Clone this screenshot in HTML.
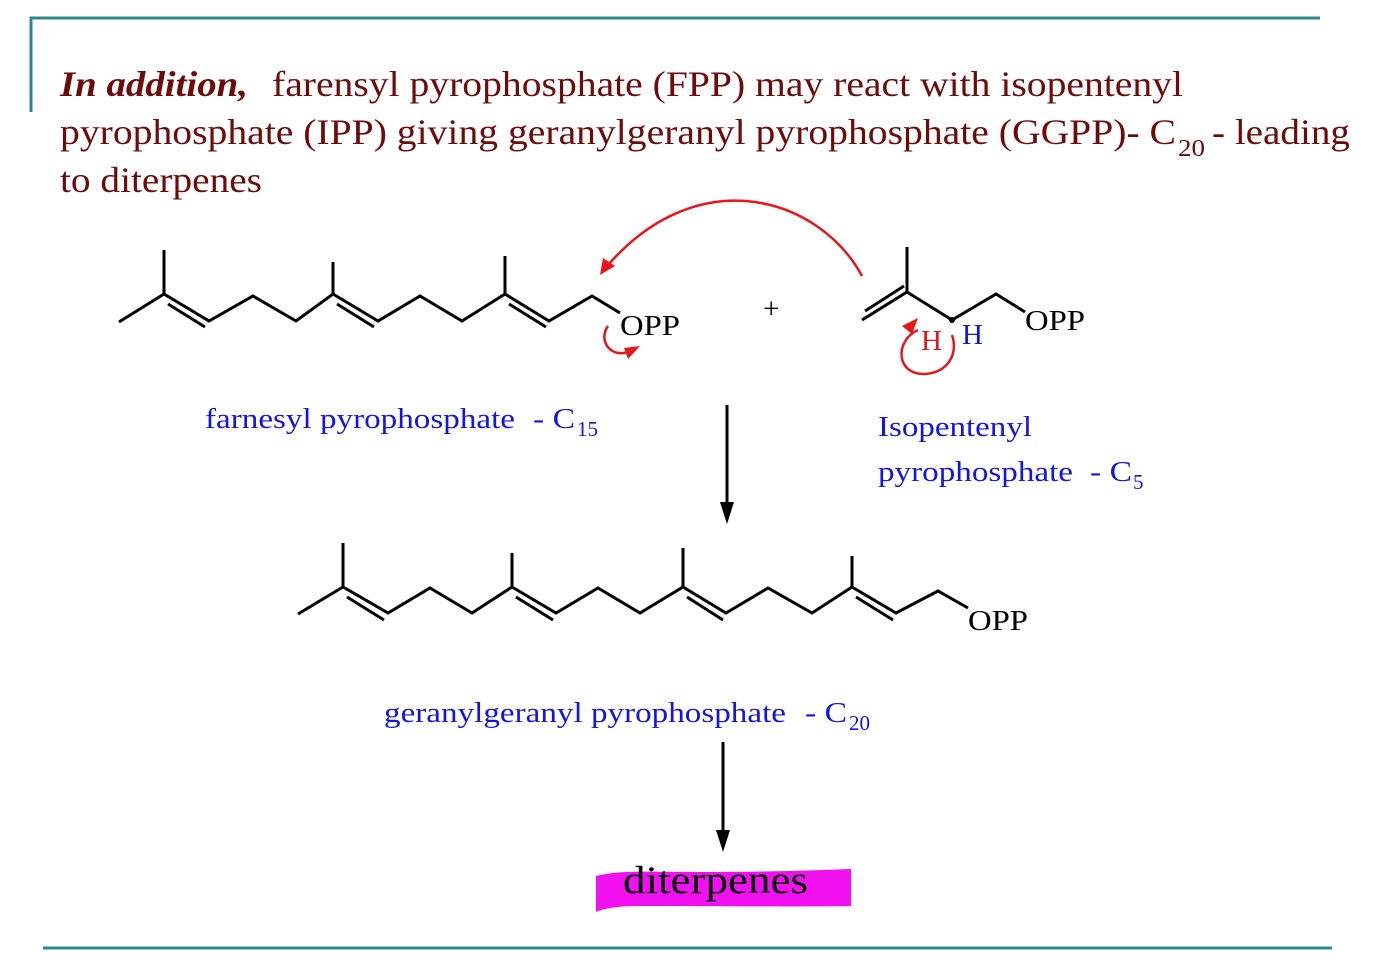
<!DOCTYPE html>
<html><head><meta charset="utf-8"><style>
html,body{margin:0;padding:0;background:#fff;width:1392px;height:968px;overflow:hidden}
svg{display:block}
text{font-family:"Liberation Serif",serif}
</style></head><body>
<svg width="1392" height="968" viewBox="0 0 1392 968" xmlns="http://www.w3.org/2000/svg">
<g stroke="#2a8a8a" stroke-width="3" fill="none">
<polyline points="31,112 31,18 1320,18"/>
<line x1="43" y1="948" x2="1332" y2="948"/>
</g>
<g fill="#6e0a0a" font-size="36">
<text x="60" y="96" font-weight="bold" font-style="italic" textLength="188" lengthAdjust="spacingAndGlyphs">In addition,</text>
<text x="272" y="96" textLength="911" lengthAdjust="spacingAndGlyphs">farensyl pyrophosphate (FPP) may react with isopentenyl</text>
<text x="60" y="144" textLength="1116" lengthAdjust="spacingAndGlyphs">pyrophosphate (IPP) giving geranylgeranyl pyrophosphate (GGPP)- C</text>
<text x="1178" y="156" font-size="24" textLength="27" lengthAdjust="spacingAndGlyphs">20</text>
<text x="1212" y="144" textLength="138" lengthAdjust="spacingAndGlyphs">- leading</text>
<text x="60" y="192" textLength="202" lengthAdjust="spacingAndGlyphs">to diterpenes</text>
</g>
<g stroke="#000" stroke-width="3" fill="none" stroke-linejoin="miter">
<polyline points="119,322 164,294 209,321 253,296 296,321 333,294 378,321 420,296 462,321 505,294 549,321 592,296 620,313"/>
<line x1="164" y1="294" x2="164" y2="250"/><line x1="333" y1="294" x2="333" y2="262"/><line x1="505" y1="294" x2="505" y2="256"/>
<line x1="168" y1="304" x2="205" y2="327"/><line x1="337" y1="304" x2="374" y2="327"/><line x1="509" y1="304" x2="546" y2="327"/>
<polyline points="298,614 343,587 388,613 430,588 472,613 512,587 556,613 598,588 640,613 683,587 726,613 768,588 812,613 852,587 896,613 938,591 968,608"/>
<line x1="343" y1="587" x2="343" y2="543"/><line x1="512" y1="587" x2="512" y2="553"/><line x1="683" y1="587" x2="683" y2="548"/><line x1="852" y1="587" x2="852" y2="556"/>
<line x1="347" y1="597" x2="384" y2="620"/><line x1="516" y1="597" x2="553" y2="620"/><line x1="687" y1="597" x2="723" y2="620"/><line x1="856" y1="597" x2="893" y2="620"/>
<polyline points="862,320 907,292 952,320 996,294 1025,312"/>
<line x1="865" y1="311" x2="904" y2="286"/>
<line x1="907" y1="292" x2="907" y2="247"/>
<line x1="727" y1="405" x2="727" y2="505"/>
<line x1="723" y1="742" x2="723" y2="833"/>
</g>
<polygon points="720,502 734,502 727,524" fill="#000"/>
<polygon points="716,830 730,830 723,852" fill="#000"/>
<circle cx="952" cy="320" r="3" fill="#000"/>
<g fill="#000" font-size="29">
<text x="620" y="335" textLength="60" lengthAdjust="spacingAndGlyphs">OPP</text>
<text x="968" y="630" textLength="60" lengthAdjust="spacingAndGlyphs">OPP</text>
<text x="1025" y="330" textLength="60" lengthAdjust="spacingAndGlyphs">OPP</text>
<text x="763" y="318">+</text>
</g>
<g stroke="#e8161b" stroke-width="2.5" fill="none">
<path d="M862,276 C820,198 700,160 608,265"/>
<path d="M608,326 C598,340 610,358 628,352"/>
<path d="M918,330 C895,340 895,375 925,374 C950,372 958,352 952,335"/>
</g>
<g fill="#e8161b">
<polygon points="600,275 603,258 615,266"/>
<polygon points="640,346 624,348 628,359"/>
<polygon points="918,318 902,326 912,334"/>
<text x="921" y="350" font-size="29">H</text>
</g>
<g fill="#1414e6" font-size="29">
<text x="962" y="344">H</text>
<text x="205" y="428" textLength="310" lengthAdjust="spacingAndGlyphs">farnesyl pyrophosphate</text>
<text x="533" y="428" textLength="42" lengthAdjust="spacingAndGlyphs">- C</text>
<text x="577" y="436" font-size="21" textLength="21" lengthAdjust="spacingAndGlyphs">15</text>
<text x="878" y="436" textLength="154" lengthAdjust="spacingAndGlyphs">Isopentenyl</text>
<text x="878" y="481" textLength="195" lengthAdjust="spacingAndGlyphs">pyrophosphate</text>
<text x="1090" y="481" textLength="42" lengthAdjust="spacingAndGlyphs">- C</text>
<text x="1133" y="489" font-size="21">5</text>
<text x="384" y="722" textLength="402" lengthAdjust="spacingAndGlyphs">geranylgeranyl pyrophosphate</text>
<text x="805" y="722" textLength="42" lengthAdjust="spacingAndGlyphs">- C</text>
<text x="849" y="730" font-size="21" textLength="21" lengthAdjust="spacingAndGlyphs">20</text>
</g>
<path d="M596,876 C620,870 640,872 700,872 C780,872 820,870 851,869 L851,906 C800,907 700,906 640,906 C620,906 605,908 596,912 Z" fill="#f010f0"/>
<text x="623" y="893" font-size="39" fill="#000" textLength="185" lengthAdjust="spacingAndGlyphs">diterpenes</text>
</svg>
</body></html>
